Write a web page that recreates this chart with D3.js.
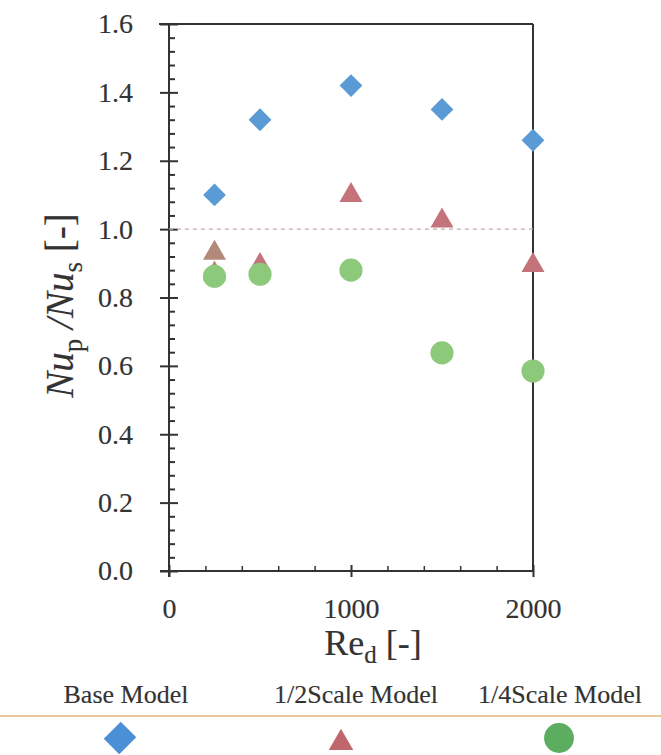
<!DOCTYPE html>
<html>
<head>
<meta charset="utf-8">
<script src="https://cdn.jsdelivr.net/npm/d3@7"></script>
<style>
	body { margin: 0; background: #fff; }
	svg text { font-family: 'Liberation Serif', 'DejaVu Serif', serif; fill: #333; stroke: #333; stroke-width: 0.15px; }
</style>
</head>
<body>
<script>
"use strict";

// Re_d values and Nu_p/Nu_s readings for each model
const reBase = [250, 500, 1000, 1500, 2000];
const nuBase = [1.10, 1.32, 1.42, 1.35, 1.26];
const reHalf = [250, 250, 500, 1000, 1500, 2000];
const nuHalf = [0.936, 0.875, 0.90, 1.105, 1.03, 0.90];
const reQuarter = [250, 500, 1000, 1500, 2000];
const nuQuarter = [0.862, 0.868, 0.88, 0.638, 0.585];

const yMajor = [0, 0.2, 0.4, 0.6, 0.8, 1.0, 1.2, 1.4, 1.6];
const xMajor = [0, 1000, 2000];
const legendNames = ["Base Model", "1/2Scale Model", "1/4Scale Model"];

const serif = "'Liberation Serif', 'DejaVu Serif', serif";
const width = 661, height = 755;
const svg = d3.select("body").append("svg").attr("width", width).attr("height", height)
	.attr("font-family", serif);

const x = d3.scaleLinear().domain([0, 2000]).range([169, 533]);
const y = d3.scaleLinear().domain([0, 1.6]).range([571, 24]);

const axisColor = "#333";
const blue = "#5b9bd5";
const red = "#c4737a";
const brown = "#b38a7a";
const green = "#8cc97a";

// frame top + right
svg.append("line").attr("x1", 159).attr("x2", x(2000)).attr("y1", y(1.6)).attr("y2", y(1.6))
	.attr("stroke", axisColor).attr("stroke-width", 2);
svg.append("line").attr("x1", x(2000)).attr("x2", x(2000)).attr("y1", y(1.6)).attr("y2", y(0))
	.attr("stroke", axisColor).attr("stroke-width", 2);

// y axis: labels + outer part of major ticks
let gy = svg.append("g").attr("transform", `translate(${x(0)},0)`)
	.call(d3.axisLeft(y).tickValues(yMajor).tickSize(9).tickPadding(27).tickFormat(d3.format(".1f")))
	.attr("font-family", serif).attr("font-size", 28);
gy.select(".domain").attr("stroke", axisColor).attr("stroke-width", 2).attr("d", `M0,${y(1.6)}V${y(0) + 6}`);
gy.selectAll(".tick line").attr("stroke", axisColor).attr("stroke-width", 2);

// y axis: inner minor ticks every 0.04, majors a bit longer
let yMinor = d3.range(0, 1.6001, 0.04);
let gy2 = svg.append("g").attr("transform", `translate(${x(0)},0)`)
	.call(d3.axisRight(y).tickValues(yMinor).tickSize(6).tickFormat(""));
gy2.select(".domain").remove();
gy2.selectAll(".tick line").attr("stroke", axisColor).attr("stroke-width", 2)
	.attr("x2", d => Math.abs(d * 5 - Math.round(d * 5)) < 1e-6 ? 9 : 6);

// x axis
let gx = svg.append("g").attr("transform", `translate(0,${y(0)})`)
	.call(d3.axisBottom(x).tickValues(xMajor).tickSize(6).tickPadding(21).tickFormat(d3.format("d")))
	.attr("font-family", serif).attr("font-size", 28);
gx.select(".domain").attr("stroke", axisColor).attr("stroke-width", 2).attr("d", `M160,0H${x(2000)}`);
gx.selectAll(".tick line").attr("stroke", axisColor).attr("stroke-width", 2).attr("y1", -6);

let xMinor = d3.range(200, 2000, 200).filter(v => v !== 1000);
let gx2 = svg.append("g").attr("transform", `translate(0,${y(0)})`)
	.call(d3.axisTop(x).tickValues(xMinor).tickSize(5).tickFormat(""));
gx2.select(".domain").remove();
gx2.selectAll(".tick line").attr("stroke", axisColor).attr("stroke-width", 1.5);

// reference line at 1.0
svg.append("line").attr("x1", x(0)).attr("x2", x(2000)).attr("y1", y(1)).attr("y2", y(1))
	.attr("stroke", "#c9a9a7").attr("stroke-width", 1.2).attr("stroke-dasharray", "4,4");

// axis titles
let yt = svg.append("text").attr("transform", `translate(73,${(y(0) + y(1.6)) / 2 + 8}) rotate(-90)`)
	.attr("text-anchor", "middle").attr("font-size", 39);
yt.append("tspan").attr("font-style", "italic").text("Nu");
yt.append("tspan").attr("font-size", 27).attr("dy", 9).text("p");
yt.append("tspan").attr("dy", -9).attr("font-style", "italic").text(" /Nu");
yt.append("tspan").attr("font-size", 27).attr("dy", 9).text("s");
yt.append("tspan").attr("dy", -9).text(" [-]");

let xt = svg.append("text").attr("x", 373).attr("y", 655).attr("text-anchor", "middle").attr("font-size", 36);
xt.append("tspan").text("Re");
xt.append("tspan").attr("font-size", 25).attr("dy", 8).text("d");
xt.append("tspan").attr("dy", -8).text(" [-]");

// markers
const diamond = d3.symbol().type(d3.symbolSquare).size(260);
const triangle = d3.symbol().type(d3.symbolTriangle).size(230);
const circle = d3.symbol().type(d3.symbolCircle).size(420);

svg.append("g").selectAll("path").data(d3.zip(reBase, nuBase)).join("path")
	.attr("d", diamond)
	.attr("transform", d => `translate(${x(d[0])},${y(d[1])}) rotate(45)`)
	.attr("fill", blue);

svg.append("g").selectAll("path").data(d3.zip(reHalf, nuHalf)).join("path")
	.attr("d", triangle)
	.attr("transform", d => `translate(${x(d[0])},${y(d[1]) + 2})`)
	.attr("fill", d => d[0] === 250 ? brown : red);

svg.append("g").selectAll("path").data(d3.zip(reQuarter, nuQuarter)).join("path")
	.attr("d", circle)
	.attr("transform", d => `translate(${x(d[0])},${y(d[1])})`)
	.attr("fill", green);

// legend
const legendX = [126, 356, 560];
const markerX = [120, 341, 559];
const legendFill = ["#4b8fd6", "#c0676e", "#5cad5f"];
svg.selectAll("text.legend").data(legendNames).join("text").attr("class", "legend")
	.attr("x", (d, i) => legendX[i]).attr("y", 703).attr("text-anchor", "middle")
	.attr("font-size", 26).text(d => d);

svg.append("line").attr("x1", 0).attr("x2", width).attr("y1", 716).attr("y2", 716)
	.attr("stroke", "#ebc99b").attr("stroke-width", 2);

const legendShapes = [
	d3.symbol().type(d3.symbolSquare).size(480),
	d3.symbol().type(d3.symbolTriangle).size(260),
	d3.symbol().type(d3.symbolCircle).size(700)
];
svg.append("g").selectAll("path").data(legendNames).join("path")
	.attr("d", (d, i) => legendShapes[i]())
	.attr("transform", (d, i) => i === 0 ? `translate(${markerX[i]},738) rotate(45) scale(1,1.1)`
		: i === 1 ? `translate(${markerX[i]},743)` : `translate(${markerX[i]},738)`)
	.attr("fill", (d, i) => legendFill[i]);
</script>
</body>
</html>
